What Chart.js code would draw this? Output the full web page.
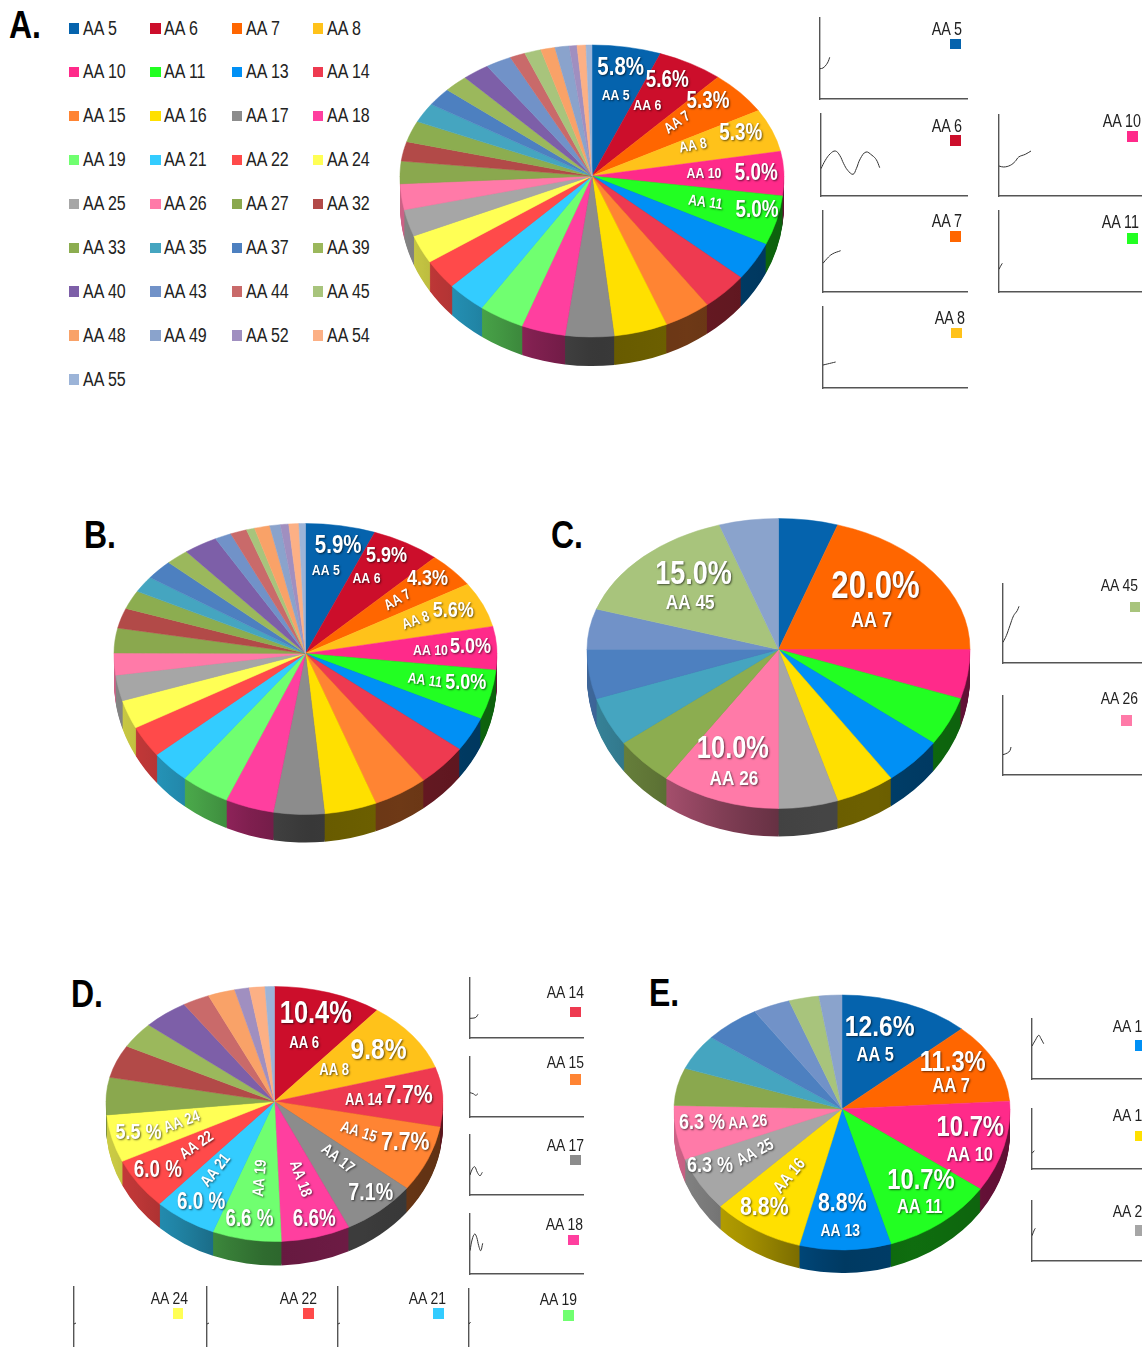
<!DOCTYPE html>
<html>
<head>
<meta charset="utf-8">
<title>AA pie charts</title>
<script src="https://cdn.jsdelivr.net/npm/chart.js@4"></script>
<style>
  html, body { margin: 0; padding: 0; background: #fff; }
  body { position: relative; width: 1142px; height: 1347px; overflow: hidden; font-family: "Liberation Sans", sans-serif; }
  canvas { position: absolute; }
  .txt { position: absolute; line-height: 1; white-space: nowrap; color: #222; }
  .box { position: absolute; }
</style>
</head>
<body>
<script>
// ---- data ----
const colorOf = {
  'AA 5': '#0563ad', 'AA 6': '#cc0e2b', 'AA 7': '#ff6600', 'AA 8': '#ffc21a',
  'AA 10': '#ff2a8a', 'AA 11': '#22ff22', 'AA 13': '#0090f5', 'AA 14': '#ee3a50',
  'AA 15': '#ff8433', 'AA 16': '#ffe000', 'AA 17': '#8c8c8c', 'AA 18': '#ff3f9f',
  'AA 19': '#70ff70', 'AA 21': '#33ccff', 'AA 22': '#ff4a4a', 'AA 24': '#ffff55',
  'AA 25': '#a6a6a6', 'AA 26': '#ff7aa8', 'AA 27': '#8aa84e', 'AA 32': '#b24a48',
  'AA 33': '#8cad50', 'AA 35': '#45a5c0', 'AA 37': '#4d80c0', 'AA 39': '#9bb85c',
  'AA 40': '#7d5fa8', 'AA 43': '#7192c8', 'AA 44': '#c96a6a', 'AA 45': '#a8c47c',
  'AA 48': '#f9a268', 'AA 49': '#8aa3cc', 'AA 52': '#a08fc0', 'AA 54': '#fcb085',
  'AA 55': '#9cb4d8'
}
const allCategories = Object.keys(colorOf)

const panelACategories = allCategories
const panelAValues = [5.8, 5.6, 5.3, 5.3, 5.0, 5.0, 3.9, 3.9, 3.9, 4.5, 4.1, 3.7, 3.8, 3.3, 3.0, 2.9, 2.7, 2.6, 2.6, 2.4, 2.6, 2.4, 2.2, 2.1, 2.3, 2.2, 1.3, 1.4, 1.2, 1.2, 0.65, 0.75, 0.5]
const panelBCategories = allCategories
const panelBValues = [5.9, 5.9, 4.3, 5.6, 5.0, 5.0, 3.5, 4.3, 4.6, 4.4, 4.3, 4.1, 4.1, 3.3, 3.2, 2.9, 2.6, 2.2, 3.1, 2.5, 2.3, 2.0, 2.4, 2.0, 2.9, 1.4, 1.4, 0.7, 1.3, 0.9, 0.7, 0.85, 0.55]
const panelCCategories = ['AA 5', 'AA 7', 'AA 10', 'AA 11', 'AA 13', 'AA 16', 'AA 25', 'AA 26', 'AA 33', 'AA 35', 'AA 37', 'AA 43', 'AA 45', 'AA 49']
const panelCValues = [5, 20, 5, 5, 5, 5, 5, 10, 5, 5, 5, 5, 15, 5]
const panelDCategories = ['AA 6', 'AA 8', 'AA 14', 'AA 15', 'AA 17', 'AA 18', 'AA 19', 'AA 21', 'AA 22', 'AA 24', 'AA 27', 'AA 32', 'AA 39', 'AA 40', 'AA 44', 'AA 48', 'AA 52', 'AA 54', 'AA 55']
const panelDValues = [10.4, 9.8, 7.7, 7.7, 7.1, 6.6, 6.6, 6.0, 6.0, 5.5, 4.9, 4.6, 3.6, 4.4, 2.6, 2.6, 1.4, 1.5, 0.9]
const panelECategories = ['AA 5', 'AA 7', 'AA 10', 'AA 11', 'AA 13', 'AA 16', 'AA 25', 'AA 26', 'AA 27', 'AA 35', 'AA 37', 'AA 43', 'AA 45', 'AA 49']
const panelEValues = [12.6, 11.3, 10.7, 10.7, 8.8, 8.8, 6.3, 6.3, 5.3, 5.0, 5.5, 3.6, 2.9, 2.2]

// which slices carry a printed label
const panelALabelCats = ['AA 5', 'AA 6', 'AA 7', 'AA 8', 'AA 10', 'AA 11']
const panelALabelPct = ['5.8%', '5.6%', '5.3%', '5.3%', '5.0%', '5.0%']
const panelBLabelCats = ['AA 5', 'AA 6', 'AA 7', 'AA 8', 'AA 10', 'AA 11']
const panelBLabelPct = ['5.9%', '5.9%', '4.3%', '5.6%', '5.0%', '5.0%']
const panelCLabelCats = ['AA 7', 'AA 45', 'AA 26']
const panelCLabelPct = ['20.0%', '15.0%', '10.0%']
const panelDLabelCats = ['AA 6', 'AA 8', 'AA 14', 'AA 15', 'AA 17', 'AA 18', 'AA 19', 'AA 21', 'AA 22', 'AA 24']
const panelDLabelPct = ['10.4%', '9.8%', '7.7%', '7.7%', '7.1%', '6.6%', '6.6 %', '6.0 %', '6.0 %', '5.5 %']
const panelELabelCats = ['AA 5', 'AA 7', 'AA 10', 'AA 11', 'AA 13', 'AA 16', 'AA 26', 'AA 25']
const panelELabelPct = ['12.6%', '11.3%', '10.7%', '10.7%', '8.8%', '8.8%', '6.3 %', '6.3 %']

// trace points of the small plots: x, then height above the axis
const traceAA5 = [[0, 30.3], [3, 31], [6.3, 34.3], [8.3, 37.7], [9.7, 41.7]]
const traceAA6 = [[0, 27.3], [4.3, 35.7], [9.3, 42.3], [14.3, 45], [18.7, 40.7], [22.7, 32.3], [26.7, 25.7], [32, 21.7], [35.3, 27.3], [39.3, 37.3], [45, 44], [51, 40.7], [55.3, 36.3], [58.7, 28.3]]
const traceAA7 = [[0, 28.7], [4.3, 33.7], [9.3, 38], [17.7, 41.3]]
const traceAA8 = [[0, 23], [4.3, 24], [12.7, 26]]
const traceAA10 = [[0, 30], [4.7, 29], [11.3, 30.7], [16.3, 34.7], [19.7, 39], [26.3, 41.7], [32, 45]]
const traceAA11 = [[0, 22.7], [1.3, 25.3], [3.3, 28.7]]
const traceAA45 = [[0, 20.7], [3.3, 27.3], [6.9, 37.3], [10.6, 47.3], [14.2, 52.3], [16, 56.7]]
const traceAA26 = [[0, 20.3], [4.4, 22], [6.9, 24.3], [8, 28]]
const traceAA14 = [[0, 19.7], [4, 20], [6.3, 21], [8, 23.7]]
const traceAA15 = [[0, 24.3], [3.3, 23.3], [5.7, 21.7], [8, 23.3]]
const traceAA17 = [[0, 20], [2.3, 26], [4.7, 28.3], [7.3, 22.7], [10, 19.3], [12.3, 22.7]]
const traceAA18 = [[0, 23.3], [2.3, 35], [4.7, 40], [6.7, 36.7], [8.7, 28.3], [10.7, 23.3], [12.7, 30.7]]
const traceAA24 = [[0, 24], [2, 25]]
const traceAA22 = [[0, 24], [2, 25]]
const traceAA21 = [[0, 24], [2, 25]]
const traceAA19 = [[0, 24], [1.5, 26]]
const traceAA13 = [[0, 33], [3.3, 38.7], [6.7, 43.7], [9, 40.3], [11.7, 35.3]]
const traceAA16 = [[0, 15.7], [2.3, 18.3]]
const traceAA25 = [[0, 25.3], [2.3, 31], [3.3, 32.7]]

// ---- layout and styling ----
const textFont = '"Liberation Sans", sans-serif'
const narrowing = 0.82 // the figure's type is squeezed sideways

// label spots relative to the pie hub: pct dx, dy, size, name dx, dy, size, name rotation
const panelASpots = [
  [28.7, -108.3, 25, 23.7, -80, 15, 0], [75.3, -95.7, 23, 55.3, -70, 15, 0],
  [116, -74, 23, 85.3, -53.3, 15, -35], [148.7, -42.3, 23, 101, -30, 15, -10],
  [164.3, -2.3, 23, 112, -2.3, 15, 0], [165, 35, 23, 113.3, 26.7, 15, 8]
]
const panelBSpots = [
  [32.7, -107.3, 25, 20.3, -82.3, 15, 0], [81, -97.3, 22, 61, -75, 15, 0],
  [122, -75, 22, 92, -53.3, 15, -30], [147.7, -42.7, 22, 110.3, -32.7, 15, -20],
  [165, -6.7, 22, 125, -2.7, 15, 0], [160.3, 29.3, 22, 119.3, 27.3, 15, 8]
]
const panelCSpots = [
  [97, -62, 38, 93, -28.7, 22, 0], [-85, -74.3, 33, -88.3, -46, 21, 0], [-45.6, 99.7, 31, -44.5, 130, 21, 0]
]
const panelDSpots = [
  [41.3, -87, 31, 29.7, -57.7, 16, 0], [104, -51, 30, 59.7, -31, 16, 0],
  [134, -5.3, 26, 89, -1, 16, 0], [130.7, 41.7, 26, 84, 30.7, 16, 18],
  [96.3, 91.7, 24, 63, 57.3, 16, 38], [39.7, 118.3, 23, 25.7, 77.3, 16, 70],
  [-25, 118.3, 23, -14.3, 76.7, 16, -85], [-73.3, 100.7, 23, -58.7, 69, 16, -52],
  [-116.7, 69, 23, -77.7, 44, 16, -35], [-136, 31.7, 22, -92.7, 20.7, 16, -20]
]
const panelESpots = [
  [37.7, -81.3, 30, 33.3, -53.3, 20, 0], [110.7, -45.7, 29, 109.3, -22.3, 20, 0],
  [128.3, 18.7, 29, 127.7, 46, 20, 0], [79, 72, 29, 77.7, 98.7, 20, 0],
  [0.3, 95, 26, -1.7, 122, 17, 0], [-77.7, 99.3, 26, -52.3, 67, 17, -50],
  [-140, 13.7, 22, -94.3, 13.7, 17, -5], [-132, 56.7, 22, -86.7, 43.7, 17, -28]
]

// darkening of the pie side, left edge to right edge
const sideStops = [[-1, 0.8], [-0.6, 0.65], [-0.3, 0.5], [0, 0.4], [0.5, 0.43], [1, 0.38]]

function sideFactor(u) {
  for (let i = 1; i < sideStops.length; i++) {
    if (u <= sideStops[i][0]) {
      const a = sideStops[i - 1], b = sideStops[i]
      return a[1] + (b[1] - a[1]) * (u - a[0]) / (b[0] - a[0])
    }
  }
  return 0.38
}

function shade(hex, f) {
  const n = parseInt(hex.slice(1), 16)
  return `rgb(${Math.round((n >> 16) * f)},${Math.round(((n >> 8) & 255) * f)},${Math.round((n & 255) * f)})`
}

// squashes the flat pie into a tilted disc, nearer half a bit taller than the far half
const tiltedPie = {
  id: 'tiltedPie',
  beforeDatasetDraw(chart, args, opts) {
    const ctx = chart.ctx
    const arcs = args.meta.data
    const { x: cx, y: cy, outerRadius: R } = arcs[0]
    const sx = opts.rx / R

    const squash = (ry, drop) => {
      ctx.translate(cx, cy + drop)
      ctx.scale(sx, ry / R)
      ctx.translate(-cx, -cy)
    }

    // the side wall: the nearer half repeated downwards in dark colours
    const sideArcs = []
    arcs.forEach((arc, i) => {
      const a0 = Math.max(arc.startAngle, 0)
      const a1 = Math.min(arc.endAngle, Math.PI)
      if (a1 <= a0) return
      const base = chart.data.datasets[0].backgroundColor[i]
      const g = ctx.createLinearGradient(cx + R * Math.cos(a0), 0, cx + R * Math.cos(a1), 0)
      for (let s = 0; s <= 4; s++) {
        const a = a0 + (a1 - a0) * s / 4
        g.addColorStop(s / 4, shade(base, sideFactor(Math.cos(a))))
      }
      const copy = Object.create(arc)
      copy.options = Object.assign({}, arc.options, { backgroundColor: g, borderWidth: 0 })
      sideArcs.push(copy)
    })
    for (let d = opts.depth; d >= 1; d--) {
      ctx.save()
      ctx.beginPath()
      ctx.rect(0, cy + d, chart.width, chart.height)
      ctx.clip()
      squash(opts.ryBottom, d)
      sideArcs.forEach(a => a.draw(ctx))
      ctx.restore()
    }

    // top surface, far half then near half
    ctx.save()
    ctx.beginPath()
    ctx.rect(0, 0, chart.width, cy + 0.5)
    ctx.clip()
    squash(opts.ryTop, 0)
    arcs.forEach(a => a.draw(ctx))
    ctx.restore()

    ctx.save()
    ctx.beginPath()
    ctx.rect(0, cy, chart.width, chart.height)
    ctx.clip()
    squash(opts.ryBottom, 0)
    arcs.forEach(a => a.draw(ctx))
    ctx.restore()
    return false
  },
  afterDraw(chart, args, opts) {
    const ctx = chart.ctx
    const { x: cx, y: cy } = chart.getDatasetMeta(0).data[0]
    const put = (text, x, y, size, rot) => {
      ctx.save()
      ctx.translate(cx + x, cy + y)
      ctx.rotate(rot * Math.PI / 180)
      ctx.scale(narrowing, 1)
      ctx.font = `bold ${size}px ${textFont}`
      ctx.textAlign = 'center'
      ctx.textBaseline = 'middle'
      ctx.fillStyle = '#fff'
      ctx.shadowColor = 'rgba(0,0,0,0.6)'
      ctx.shadowBlur = 2
      ctx.shadowOffsetX = 1
      ctx.shadowOffsetY = 1
      ctx.fillText(text, 0, 0)
      ctx.restore()
    }
    opts.labelCats.forEach((cat, i) => {
      const s = opts.spots[i]
      put(opts.labelPct[i], s[0], s[1], s[2], 0)
      put(cat, s[3], s[4], s[5], s[6])
    })
  }
}

function addPie(cx, cy, rx, ryTop, ryBottom, depth, categories, values, labelCats, labelPct, spots) {
  const canvas = document.createElement('canvas')
  const side = Math.ceil(rx * 2) + 8
  canvas.width = side
  canvas.height = side
  canvas.style.left = (cx - side / 2) + 'px'
  canvas.style.top = (cy - side / 2) + 'px'
  document.body.appendChild(canvas)
  new Chart(canvas, {
    type: 'pie',
    data: {
      labels: categories,
      datasets: [{
        data: values,
        backgroundColor: categories.map(c => colorOf[c]),
        borderColor: categories.map(c => colorOf[c]),
        borderWidth: 0.6
      }]
    },
    options: {
      responsive: false,
      animation: false,
      events: [],
      plugins: {
        legend: { display: false },
        tooltip: { enabled: false },
        tiltedPie: { rx, ryTop, ryBottom, depth, labelCats, labelPct, spots }
      }
    },
    plugins: [tiltedPie]
  })
}

// small plot with just a left and a bottom axis
function addTrace(x, top, w, h, trace) {
  const pad = 2
  const canvas = document.createElement('canvas')
  canvas.width = w + pad * 2
  canvas.height = h + pad * 2
  canvas.style.left = (x - pad) + 'px'
  canvas.style.top = (top - pad) + 'px'
  document.body.appendChild(canvas)
  const axis = { width: 1.4, color: '#555' }
  new Chart(canvas, {
    type: 'line',
    data: {
      datasets: [{
        data: trace.map(p => ({ x: p[0], y: p[1] })),
        borderColor: '#333',
        borderWidth: 1,
        pointRadius: 0,
        tension: 0.4
      }]
    },
    options: {
      responsive: false,
      animation: false,
      events: [],
      layout: { padding: pad },
      plugins: { legend: { display: false }, tooltip: { enabled: false } },
      scales: {
        x: { type: 'linear', min: 0, max: w, ticks: { display: false }, grid: { display: false, drawTicks: false }, border: axis },
        y: { type: 'linear', min: 0, max: h, ticks: { display: false }, grid: { display: false, drawTicks: false }, border: axis }
      }
    }
  })
}

function addText(text, x, y, size, align, weight) {
  const el = document.createElement('div')
  el.className = 'txt'
  el.textContent = text
  el.style.left = x + 'px'
  el.style.top = y + 'px'
  el.style.fontSize = size + 'px'
  if (weight) { el.style.fontWeight = weight; el.style.color = '#000' }
  if (align === 'right') {
    el.style.transformOrigin = '100% 50%'
    el.style.transform = `translate(-100%,-50%) scaleX(${narrowing})`
  } else {
    el.style.transformOrigin = '0 50%'
    el.style.transform = `translate(0,-50%) scaleX(${narrowing})`
  }
  document.body.appendChild(el)
}

function addSquare(x, y, w, h, color) {
  const el = document.createElement('div')
  el.className = 'box'
  el.style.cssText += `left:${x}px;top:${y}px;width:${w}px;height:${h}px;background:${color}`
  document.body.appendChild(el)
}

// ---- panel letters ----
addText('A.', 9, 23.5, 39, 'left', 'bold')
addText('B.', 84, 533.5, 39, 'left', 'bold')
addText('C.', 551, 533.5, 39, 'left', 'bold')
addText('D.', 71, 993, 39, 'left', 'bold')
addText('E.', 649, 992, 39, 'left', 'bold')

// ---- legend of panel A ----
const legendCols = [68.5, 150, 231.5, 312.5]
const legendRowHeight = 43.9
allCategories.forEach((cat, i) => {
  const col = i % 4
  const row = Math.floor(i / 4)
  const y = 28 + row * legendRowHeight
  addSquare(legendCols[col], y - 5, 10.5, 10.5, colorOf[cat])
  addText(cat, legendCols[col] + 14, y + 0.5, 19.5, 'left')
})

// ---- pies ----
addPie(592, 175.5, 192, 131, 161, 29, panelACategories, panelAValues, panelALabelCats, panelALabelPct, panelASpots)
addPie(305.5, 653.5, 191.5, 130, 161, 28, panelBCategories, panelBValues, panelBLabelCats, panelBLabelPct, panelBSpots)
addPie(778, 649.5, 191.5, 131, 159, 28, panelCCategories, panelCValues, panelCLabelCats, panelCLabelPct, panelCSpots)
addPie(274, 1101, 168.5, 115, 140, 24, panelDCategories, panelDValues, panelDLabelCats, panelDLabelPct, panelDSpots)
addPie(841.5, 1109, 168, 114, 141, 23, panelECategories, panelEValues, panelELabelCats, panelELabelPct, panelESpots)

// ---- small plots: x, top, width, height, trace, then key name, text right, text y, size, square x, square y ----
const insets = [
  [820, 18, 147, 81, traceAA5, 'AA 5', 962, 30, 17.5, 950, 38.5],
  [821, 114, 146, 82, traceAA6, 'AA 6', 962, 126.5, 17.5, 950, 135],
  [822.5, 211, 144.5, 81, traceAA7, 'AA 7', 962, 222, 17.5, 950, 231],
  [822.5, 307, 144.5, 81, traceAA8, 'AA 8', 965, 319, 17.5, 951, 327.5],
  [998.5, 115, 150, 81, traceAA10, 'AA 10', 1141, 122, 17.5, 1127, 131],
  [998.5, 211, 150, 81, traceAA11, 'AA 11', 1139, 223, 17.5, 1127, 233],
  [1002.5, 583.5, 150, 79, traceAA45, 'AA 45', 1138, 585, 17, 1129.5, 601.5],
  [1002.5, 696, 150, 79, traceAA26, 'AA 26', 1138, 698, 17, 1121, 715],
  [469.5, 978, 113, 60, traceAA14, 'AA 14', 584, 991.5, 17, 570, 1006.5],
  [469.5, 1057, 113, 60, traceAA15, 'AA 15', 584, 1062, 17, 570, 1074],
  [469.5, 1134.5, 113, 60, traceAA17, 'AA 17', 584, 1144.5, 17, 570, 1154.5],
  [469.5, 1213.5, 113, 60, traceAA18, 'AA 18', 583, 1224, 17, 568, 1234.5],
  [73.5, 1287, 113, 61, traceAA24, 'AA 24', 187.5, 1298, 17, 172.5, 1308],
  [207, 1287, 113, 61, traceAA22, 'AA 22', 317, 1298, 17, 303, 1308],
  [337.5, 1287, 113, 61, traceAA21, 'AA 21', 446, 1298, 17, 433, 1308],
  [469, 1289, 113, 59, traceAA19, 'AA 19', 577, 1299, 17, 563, 1310],
  [1031.5, 1018.5, 125, 60, traceAA13, 'AA 13', 1150, 1026, 17, 1135, 1040],
  [1031.5, 1108.5, 125, 60, traceAA16, 'AA 16', 1150, 1115, 17, 1135, 1130.5],
  [1031.5, 1201, 125, 60, traceAA25, 'AA 25', 1150, 1211, 17, 1135, 1225]
]
insets.forEach(p => {
  addTrace(p[0], p[1], p[2], p[3], p[4])
  addText(p[5], p[6], p[7], p[8], 'right')
  addSquare(p[9], p[10], 10.5, 10.5, colorOf[p[5]])
})
</script>
</body>
</html>
